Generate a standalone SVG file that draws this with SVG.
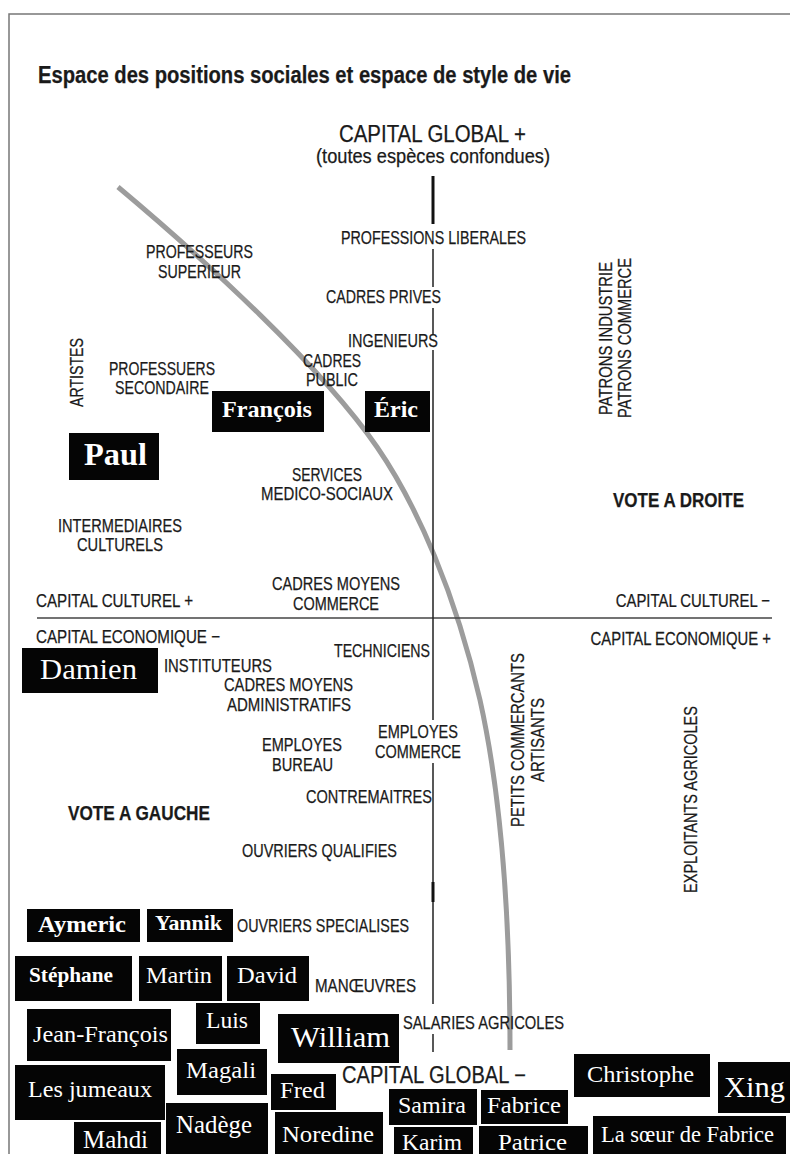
<svg xmlns="http://www.w3.org/2000/svg" width="790" height="1154" viewBox="0 0 790 1154">
<style>
.lbl{font-family:"Liberation Sans",Arial,sans-serif;font-size:18.5px;fill:#1a1a1a;stroke:#1a1a1a;stroke-width:0.25;text-anchor:middle}
.st{text-anchor:start}
.en{text-anchor:end}
.b{font-weight:bold}
.nm{font-family:"Liberation Serif","Times New Roman",serif;fill:#fff;stroke:none;text-anchor:middle;font-size:24px}
.box{fill:#050505}
.ax{stroke:#222;stroke-width:1.5;fill:none}
</style>
<rect x="0" y="0" width="790" height="1154" fill="#fff"/>
<path d="M9,1154 V14 H790" fill="none" stroke="#777" stroke-width="1.5"/>
<g id="title"><text class="lbl st b" x="38" y="83" style="font-size:23px" textLength="533" lengthAdjust="spacingAndGlyphs">Espace des positions sociales et espace de style de vie</text></g>

<g id="connectors">
<path d="M118,187 C205,260 322,367 377,447 C417,505 456,595 480,700 C500,790 510,900 510,1050" fill="none" stroke="#9c9c9c" stroke-width="5"/>
<line x1="37" y1="618" x2="772" y2="618" stroke="#444" stroke-width="1.5"/>
<line x1="433" y1="176" x2="433" y2="224" stroke="#111" stroke-width="3"/>
<path class="ax" d="M433,249 V287 M433,308 V335 M433,350 V720 M433,763 V882 M433,902 V1004 M433,1034 V1052"/>
<line x1="433" y1="882" x2="433" y2="902" stroke="#111" stroke-width="3"/>
</g>

<g id="axis-labels">
<text class="lbl" x="432.5" y="142" style="font-size:23px" textLength="187" lengthAdjust="spacingAndGlyphs">CAPITAL GLOBAL +</text>
<text class="lbl" x="433" y="163" style="font-size:20px" textLength="234" lengthAdjust="spacingAndGlyphs">(toutes espèces confondues)</text>
<text class="lbl" x="434" y="1083" style="font-size:23px" textLength="184" lengthAdjust="spacingAndGlyphs">CAPITAL GLOBAL −</text>
<text class="lbl st" x="36" y="607" textLength="157" lengthAdjust="spacingAndGlyphs">CAPITAL CULTUREL +</text>
<text class="lbl st" x="36" y="643" textLength="184" lengthAdjust="spacingAndGlyphs">CAPITAL ECONOMIQUE −</text>
<text class="lbl en" transform="translate(770,607) scale(0.805,1)" x="0" y="0">CAPITAL CULTUREL −</text>
<text class="lbl en" transform="translate(771,645) scale(0.804,1)" x="0" y="0">CAPITAL ECONOMIQUE +</text>
<text class="lbl st b" x="613" y="507" style="font-size:20.5px" textLength="131" lengthAdjust="spacingAndGlyphs">VOTE A DROITE</text>
<text class="lbl st b" x="68" y="820" style="font-size:20.5px" textLength="142" lengthAdjust="spacingAndGlyphs">VOTE A GAUCHE</text>
</g>

<g id="professions-liberales"><text class="lbl" x="433.5" y="244" textLength="185" lengthAdjust="spacingAndGlyphs">PROFESSIONS LIBERALES</text></g>
<g id="professeurs-superieur"><text class="lbl" x="199.5" y="258" textLength="107" lengthAdjust="spacingAndGlyphs">PROFESSEURS</text><text class="lbl" x="199.5" y="278" textLength="83" lengthAdjust="spacingAndGlyphs">SUPERIEUR</text></g>
<g id="cadres-prives"><text class="lbl" x="383.5" y="303" textLength="115" lengthAdjust="spacingAndGlyphs">CADRES PRIVES</text></g>
<g id="ingenieurs"><text class="lbl" x="393" y="347" textLength="90" lengthAdjust="spacingAndGlyphs">INGENIEURS</text></g>
<g id="professeurs-secondaire"><text class="lbl" x="162" y="375" textLength="106" lengthAdjust="spacingAndGlyphs">PROFESSUERS</text><text class="lbl" x="162" y="394" textLength="94" lengthAdjust="spacingAndGlyphs">SECONDAIRE</text></g>
<g id="cadres-public"><text class="lbl" x="332" y="367" textLength="58" lengthAdjust="spacingAndGlyphs">CADRES</text><text class="lbl" x="332" y="386" textLength="52" lengthAdjust="spacingAndGlyphs">PUBLIC</text></g>
<g id="artistes"><text class="lbl" transform="translate(83,372.5) rotate(-90)" x="0" y="0" textLength="69" lengthAdjust="spacingAndGlyphs">ARTISTES</text></g>
<g id="patrons"><text class="lbl" transform="translate(612,338.5) rotate(-90)" x="0" y="0" textLength="153" lengthAdjust="spacingAndGlyphs">PATRONS INDUSTRIE</text><text class="lbl" transform="translate(631,338) rotate(-90)" x="0" y="0" textLength="160" lengthAdjust="spacingAndGlyphs">PATRONS COMMERCE</text></g>
<g id="services-medico-sociaux"><text class="lbl" x="327" y="481" textLength="70" lengthAdjust="spacingAndGlyphs">SERVICES</text><text class="lbl" x="327" y="500" textLength="132" lengthAdjust="spacingAndGlyphs">MEDICO-SOCIAUX</text></g>
<g id="intermediaires-culturels"><text class="lbl" x="120" y="532" textLength="124" lengthAdjust="spacingAndGlyphs">INTERMEDIAIRES</text><text class="lbl" x="120" y="551" textLength="86" lengthAdjust="spacingAndGlyphs">CULTURELS</text></g>
<g id="cadres-moyens-commerce"><text class="lbl" x="336" y="590" textLength="128" lengthAdjust="spacingAndGlyphs">CADRES MOYENS</text><text class="lbl" x="336" y="610" textLength="86" lengthAdjust="spacingAndGlyphs">COMMERCE</text></g>
<g id="techniciens"><text class="lbl st" x="334" y="657" textLength="96" lengthAdjust="spacingAndGlyphs">TECHNICIENS</text></g>
<g id="instituteurs"><text class="lbl st" x="164" y="672" textLength="108" lengthAdjust="spacingAndGlyphs">INSTITUTEURS</text></g>
<g id="cadres-moyens-administratifs"><text class="lbl" x="288.5" y="691" textLength="129" lengthAdjust="spacingAndGlyphs">CADRES MOYENS</text><text class="lbl" x="289" y="711" textLength="124" lengthAdjust="spacingAndGlyphs">ADMINISTRATIFS</text></g>
<g id="employes-bureau"><text class="lbl" x="302" y="751" textLength="80" lengthAdjust="spacingAndGlyphs">EMPLOYES</text><text class="lbl" x="302.5" y="771" textLength="61" lengthAdjust="spacingAndGlyphs">BUREAU</text></g>
<g id="employes-commerce"><text class="lbl" x="418" y="738" textLength="80" lengthAdjust="spacingAndGlyphs">EMPLOYES</text><text class="lbl" x="418" y="758" textLength="86" lengthAdjust="spacingAndGlyphs">COMMERCE</text></g>
<g id="contremaitres"><text class="lbl st" x="306" y="803" textLength="126" lengthAdjust="spacingAndGlyphs">CONTREMAITRES</text></g>
<g id="ouvriers-qualifies"><text class="lbl st" x="242" y="857" textLength="155" lengthAdjust="spacingAndGlyphs">OUVRIERS QUALIFIES</text></g>
<g id="ouvriers-specialises"><text class="lbl st" x="237" y="932" textLength="172" lengthAdjust="spacingAndGlyphs">OUVRIERS SPECIALISES</text></g>
<g id="manoeuvres"><text class="lbl st" x="315" y="992" textLength="101" lengthAdjust="spacingAndGlyphs">MANŒUVRES</text></g>
<g id="salaries-agricoles"><text class="lbl st" x="403" y="1029" textLength="161" lengthAdjust="spacingAndGlyphs">SALARIES AGRICOLES</text></g>
<g id="petits-commercants"><text class="lbl" transform="translate(524,740) rotate(-90)" x="0" y="0" textLength="174" lengthAdjust="spacingAndGlyphs">PETITS COMMERCANTS</text><text class="lbl" transform="translate(544,740) rotate(-90)" x="0" y="0" textLength="84" lengthAdjust="spacingAndGlyphs">ARTISANTS</text></g>
<g id="exploitants-agricoles"><text class="lbl" transform="translate(697,799.5) rotate(-90)" x="0" y="0" textLength="187" lengthAdjust="spacingAndGlyphs">EXPLOITANTS AGRICOLES</text></g>

<g id="paul"><rect class="box" x="69" y="433" width="90" height="47"/><text class="nm b" x="115.5" y="465" style="font-size:31px" textLength="63" lengthAdjust="spacingAndGlyphs">Paul</text></g>
<g id="francois"><rect class="box" x="212" y="391" width="112" height="41"/><text class="nm b" x="267" y="417" textLength="90" lengthAdjust="spacingAndGlyphs">François</text></g>
<g id="eric"><rect class="box" x="365" y="391" width="65" height="41"/><text class="nm b" x="396" y="417" textLength="44" lengthAdjust="spacingAndGlyphs">Éric</text></g>
<g id="damien"><rect class="box" x="22" y="648" width="136" height="45"/><text class="nm" x="88.5" y="679" style="font-size:29px" textLength="97" lengthAdjust="spacingAndGlyphs">Damien</text></g>
<g id="aymeric"><rect class="box" x="27" y="909" width="113" height="33"/><text class="nm b" x="82" y="932" textLength="88" lengthAdjust="spacingAndGlyphs">Aymeric</text></g>
<g id="yannik"><rect class="box" x="147" y="909" width="86" height="33"/><text class="nm b" x="188.5" y="930" style="font-size:21px" textLength="67" lengthAdjust="spacingAndGlyphs">Yannik</text></g>
<g id="stephane"><rect class="box" x="15" y="956" width="117" height="45"/><text class="nm b" x="71" y="982" style="font-size:21px" textLength="84" lengthAdjust="spacingAndGlyphs">Stéphane</text></g>
<g id="martin"><rect class="box" x="139" y="956" width="83" height="45"/><text class="nm" x="179" y="983" textLength="66" lengthAdjust="spacingAndGlyphs">Martin</text></g>
<g id="david"><rect class="box" x="227" y="956" width="82" height="45"/><text class="nm" x="267" y="983" textLength="60" lengthAdjust="spacingAndGlyphs">David</text></g>
<g id="jean-francois"><rect class="box" x="27" y="1009" width="144" height="52"/><text class="nm" x="100.5" y="1042" textLength="135" lengthAdjust="spacingAndGlyphs">Jean-François</text></g>
<g id="luis"><rect class="box" x="196" y="1003" width="64" height="41"/><text class="nm" x="227" y="1028" textLength="42" lengthAdjust="spacingAndGlyphs">Luis</text></g>
<g id="william"><rect class="box" x="278" y="1014" width="121" height="49"/><text class="nm" x="340.5" y="1047" style="font-size:30px" textLength="99" lengthAdjust="spacingAndGlyphs">William</text></g>
<g id="les-jumeaux"><rect class="box" x="15" y="1065" width="150" height="55"/><text class="nm" x="90" y="1097" textLength="124" lengthAdjust="spacingAndGlyphs">Les jumeaux</text></g>
<g id="magali"><rect class="box" x="177" y="1049" width="90" height="46"/><text class="nm" x="221" y="1078" textLength="70" lengthAdjust="spacingAndGlyphs">Magali</text></g>
<g id="fred"><rect class="box" x="271" y="1074" width="65" height="36"/><text class="nm" x="302.5" y="1098" textLength="45" lengthAdjust="spacingAndGlyphs">Fred</text></g>
<g id="christophe"><rect class="box" x="574" y="1054" width="136" height="43"/><text class="nm" x="640.5" y="1082" textLength="107" lengthAdjust="spacingAndGlyphs">Christophe</text></g>
<g id="xing"><rect class="box" x="718" y="1062" width="72" height="51"/><text class="nm" x="754.5" y="1097" style="font-size:30px" textLength="61" lengthAdjust="spacingAndGlyphs">Xing</text></g>
<g id="nadege"><rect class="box" x="166" y="1103" width="102" height="51"/><text class="nm" x="214" y="1133" style="font-size:25px" textLength="76" lengthAdjust="spacingAndGlyphs">Nadège</text></g>
<g id="mahdi"><rect class="box" x="74" y="1122" width="87" height="32"/><text class="nm" x="115.5" y="1148" style="font-size:25px" textLength="65" lengthAdjust="spacingAndGlyphs">Mahdi</text></g>
<g id="noredine"><rect class="box" x="275" y="1112" width="108" height="42"/><text class="nm" x="328" y="1142" textLength="92" lengthAdjust="spacingAndGlyphs">Noredine</text></g>
<g id="samira"><rect class="box" x="389" y="1089" width="88" height="36"/><text class="nm" x="432" y="1113" textLength="68" lengthAdjust="spacingAndGlyphs">Samira</text></g>
<g id="fabrice"><rect class="box" x="481" y="1090" width="87" height="34"/><text class="nm" x="524" y="1113" textLength="74" lengthAdjust="spacingAndGlyphs">Fabrice</text></g>
<g id="karim"><rect class="box" x="394" y="1127" width="79" height="27"/><text class="nm" x="432" y="1150" textLength="60" lengthAdjust="spacingAndGlyphs">Karim</text></g>
<g id="patrice"><rect class="box" x="479" y="1126" width="109" height="28"/><text class="nm" x="532.5" y="1150" textLength="69" lengthAdjust="spacingAndGlyphs">Patrice</text></g>
<g id="la-soeur-de-fabrice"><rect class="box" x="593" y="1116" width="193" height="38"/><text class="nm" x="687.5" y="1142" style="font-size:22.5px" textLength="173" lengthAdjust="spacingAndGlyphs">La sœur de Fabrice</text></g>
</svg>
